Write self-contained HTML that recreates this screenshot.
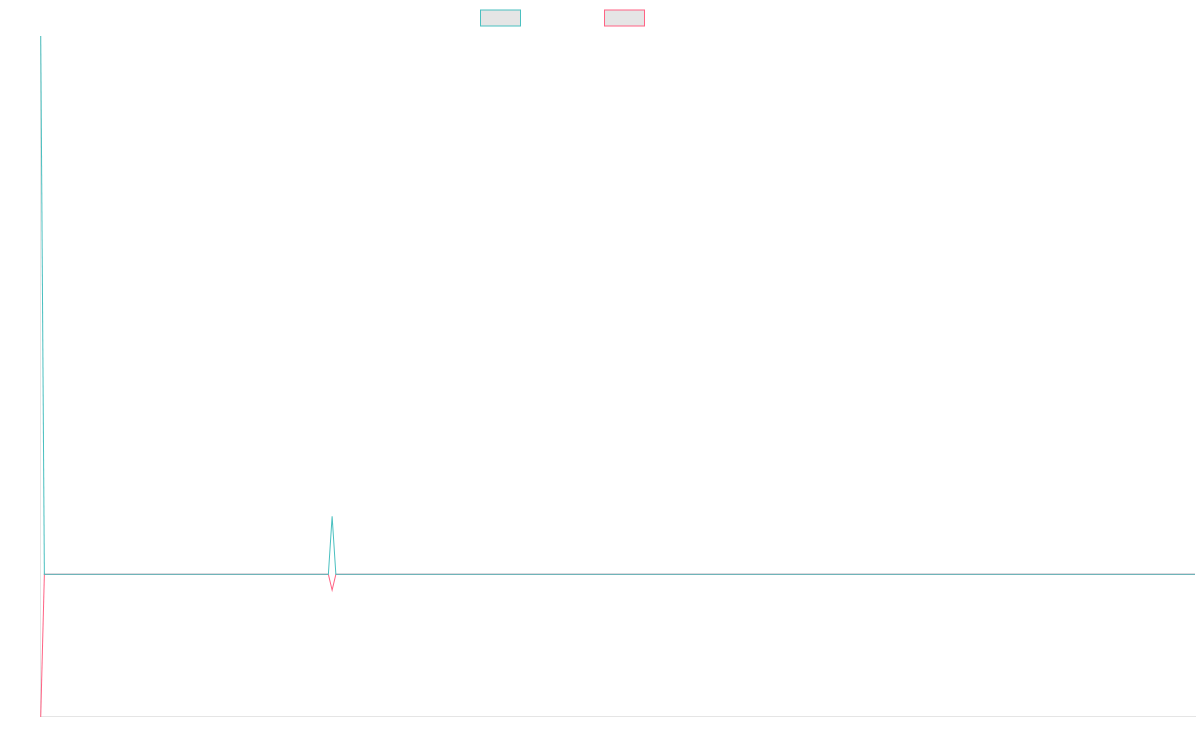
<!DOCTYPE html>
<html lang="en">
<head>
<meta charset="utf-8">
<title>Line chart</title>
<style>
html,body{margin:0;padding:0;background:#fff;}
body{width:1200px;height:750px;overflow:hidden;font-family:"Liberation Sans",sans-serif;}
svg{display:block;position:absolute;left:0;top:0;}
</style>
</head>
<body>
<svg width="1200" height="750" viewBox="0 0 1200 750">
  <rect x="0" y="0" width="1200" height="750" fill="#ffffff"/>
  <!-- legend -->
  <g>
    <rect x="480.5" y="10" width="40" height="16" fill="rgba(0,0,0,0.1)" stroke="rgb(75,192,192)" stroke-width="1"/>
    <rect x="604.5" y="10" width="40" height="16" fill="rgba(0,0,0,0.1)" stroke="rgb(255,99,132)" stroke-width="1"/>
  </g>
  <!-- axis borders -->
  <g>
    <line x1="40.5" y1="36" x2="40.5" y2="716.5" stroke="rgba(0,0,0,0.1)" stroke-width="1"/>
    <line x1="41" y1="716.5" x2="1196" y2="716.5" stroke="rgba(0,0,0,0.1)" stroke-width="1"/>
  </g>
  <!-- dataset 2 (red, drawn first) -->
  <g>
    <polyline fill="none" stroke="rgb(255,99,132)" stroke-width="1.01" stroke-linejoin="miter" stroke-miterlimit="10" points="40.72,717.00 44.37,574.30"/>
    <rect x="43.87" y="573" width="284.81" height="1" fill="rgb(255,99,132)" fill-opacity="0.2"/><rect x="43.87" y="574" width="284.81" height="1" fill="rgb(255,99,132)" fill-opacity="0.8"/>
    <polyline fill="none" stroke="rgb(255,99,132)" stroke-width="1.01" stroke-linejoin="miter" stroke-miterlimit="10" points="328.38,574.30 332.12,590.15 335.86,574.30"/>
    <rect x="335.56" y="573" width="859.44" height="1" fill="rgb(255,99,132)" fill-opacity="0.2"/><rect x="335.56" y="574" width="859.44" height="1" fill="rgb(255,99,132)" fill-opacity="0.8"/>
  </g>
  <!-- dataset 1 (teal, drawn on top) -->
  <g>
    <polyline fill="none" stroke="rgb(75,192,192)" stroke-width="1.01" stroke-linejoin="miter" stroke-miterlimit="10" points="40.72,36.00 44.37,574.30"/>
    <rect x="43.87" y="573" width="284.81" height="1" fill="rgb(75,192,192)" fill-opacity="0.2"/><rect x="43.87" y="574" width="284.81" height="1" fill="rgb(75,192,192)" fill-opacity="0.8"/>
    <polyline fill="none" stroke="rgb(75,192,192)" stroke-width="1.01" stroke-linejoin="miter" stroke-miterlimit="10" points="328.38,574.30 332.12,516.20 335.86,574.30"/>
    <rect x="335.56" y="573" width="859.44" height="1" fill="rgb(75,192,192)" fill-opacity="0.2"/><rect x="335.56" y="574" width="859.44" height="1" fill="rgb(75,192,192)" fill-opacity="0.8"/>
  </g>
</svg>
</body>
</html>
